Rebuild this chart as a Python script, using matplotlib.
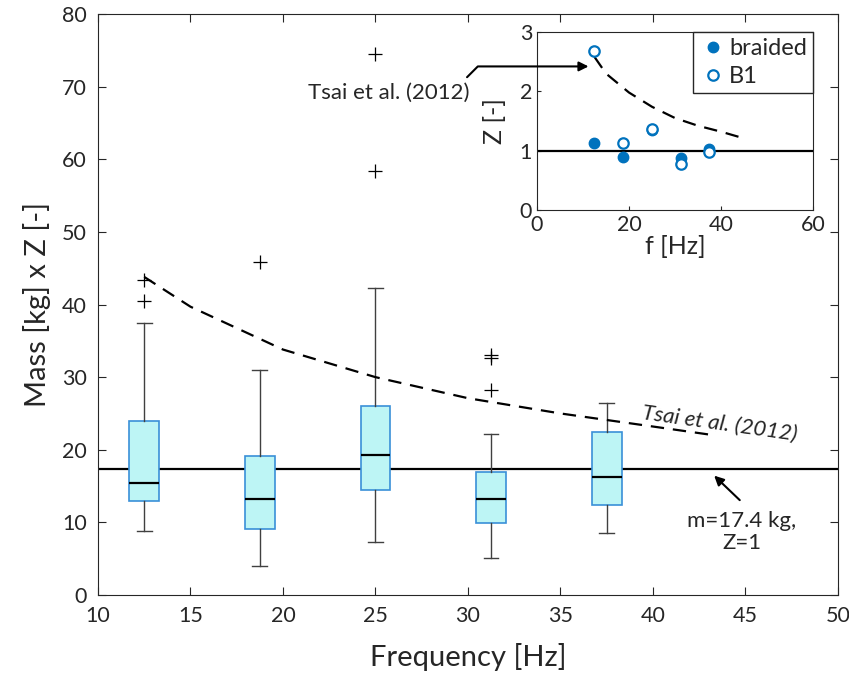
import numpy as np
import matplotlib.pyplot as plt

plt.rcParams['font.family'] = ['Lato', 'DejaVu Sans']

# box statistics
freqs = [12.5, 18.75, 25, 31.25, 37.5]
q1 = [13.0, 9.1, 14.4, 9.9, 12.4]
med = [15.4, 13.2, 19.3, 13.2, 16.3]
q3 = [24.0, 19.1, 26.0, 16.9, 22.4]
wlo = [8.8, 4.0, 7.3, 5.1, 8.6]
whi = [37.4, 31.0, 42.3, 22.2, 26.4]
fliers = [[40.5, 43.4], [45.8], [58.4, 74.5], [28.2, 32.7, 33.1], []]

# Tsai et al. (2012) curve, read at a few frequencies
tsai_f = [12.5, 15, 20, 25, 30, 35, 40, 43.3]
tsai_m = [43.8, 39.7, 33.8, 30.0, 27.1, 25.0, 23.2, 22.0]
m_ref = 17.4

# inset: Z per frequency
z_braided = [1.13, 0.89, 1.35, 0.87, 1.03]
z_b1 = [2.68, 1.13, 1.37, 0.78, 0.97]
tsai_z_f = [12.5, 15, 20, 25, 30, 35, 40, 44]
tsai_z = [2.58, 2.30, 1.98, 1.74, 1.55, 1.42, 1.32, 1.23]

grey = '#262626'
blue = '#0072BD'

fig = plt.figure(figsize=(8.49, 6.77), dpi=100)
ax = fig.add_axes([0.1154, 0.1211, 0.8716, 0.8582])

stats = []
for i in range(len(freqs)):
    stats.append(dict(med=med[i], q1=q1[i], q3=q3[i], whislo=wlo[i],
                      whishi=whi[i], fliers=fliers[i]))
ax.bxp(stats, positions=freqs, widths=1.6, patch_artist=True, manage_ticks=False,
       boxprops=dict(facecolor='#BDF5F5', edgecolor='#3A90D8', linewidth=1.2),
       medianprops=dict(color='black', linewidth=1.6),
       whiskerprops=dict(color='#404040', linewidth=1.0),
       capprops=dict(color='#404040', linewidth=1.0),
       capwidths=0.8,
       flierprops=dict(marker='+', markeredgecolor='black', markersize=10,
                       markeredgewidth=0.9, linestyle='none'))

ax.axhline(m_ref, color='black', linewidth=1.6, zorder=1)
ax.plot(tsai_f, tsai_m, color='black', linestyle=(0, (6, 4)), linewidth=1.6)

ax.set_xlim(10, 50)
ax.set_ylim(0, 80)
ax.set_xticks(np.arange(10, 51, 5))
ax.set_yticks(np.arange(0, 81, 10))
ax.tick_params(direction='in', top=True, right=True, length=6, labelsize=15.5,
               colors=grey, pad=8)
for s in ax.spines.values():
    s.set_color(grey)
ax.set_xlabel('Frequency [Hz]', fontsize=21, color=grey, labelpad=12)
ax.set_ylabel('Mass [kg] x Z [-]', fontsize=21, color=grey, labelpad=8)

ax.text(43.6, 23.6, 'Tsai et al. (2012)', rotation=-8, fontsize=16,
        style='italic', color=grey, ha='center', va='center')
ax.annotate('', xy=(43.2, 16.7), xytext=(44.8, 12.8),
            arrowprops=dict(arrowstyle='-|>', color='black', lw=1.5,
                            mutation_scale=14))
ax.text(44.8, 8.7, 'm=17.4 kg,\nZ=1', fontsize=16, color=grey,
        ha='center', va='center', linespacing=1.15)
ax.text(25.7, 69.1, 'Tsai et al. (2012)', fontsize=16, color=grey,
        ha='center', va='center')

# inset
axi = fig.add_axes([0.6325, 0.6898, 0.3251, 0.2629])
axi.axhline(1, color='black', linewidth=1.6)
axi.plot(tsai_z_f, tsai_z, color='black', linestyle=(0, (6, 4)), linewidth=1.6)
axi.plot(freqs, z_braided, 'o', color=blue, markersize=7.5, label='braided')
axi.plot(freqs, z_b1, 'o', markerfacecolor='white', markeredgecolor=blue,
         markeredgewidth=1.6, markersize=7.5, label='B1')
axi.set_xlim(0, 60)
axi.set_ylim(0, 3)
axi.set_xticks([0, 20, 40, 60])
axi.set_yticks([0, 1, 2, 3])
axi.tick_params(direction='in', length=3, labelsize=15.5, colors=grey)
for s in axi.spines.values():
    s.set_color(grey)
axi.set_xlabel('f [Hz]', fontsize=18, color=grey, labelpad=0)
axi.set_ylabel('Z [-]', fontsize=18, color=grey, labelpad=10)
leg = axi.legend(loc='upper right', fontsize=17, handletextpad=0.1,
                 borderaxespad=0.0, handlelength=1.2, fancybox=False,
                 framealpha=1, borderpad=0.25, labelspacing=0.3,
                 labelcolor=grey)
leg.get_frame().set_edgecolor(grey)

# pointer from the label in the main axes to the inset curve
axi.annotate('', xy=(11.2, 2.42), xycoords='data',
             xytext=(29.95, 71.3), textcoords=ax.transData,
             annotation_clip=False,
             arrowprops=dict(arrowstyle='-|>', color='black', lw=1.5,
                             mutation_scale=14, shrinkA=0, shrinkB=0,
                             connectionstyle='angle,angleA=45,angleB=0,rad=0'))

fig.savefig('out.png', dpi=100)
